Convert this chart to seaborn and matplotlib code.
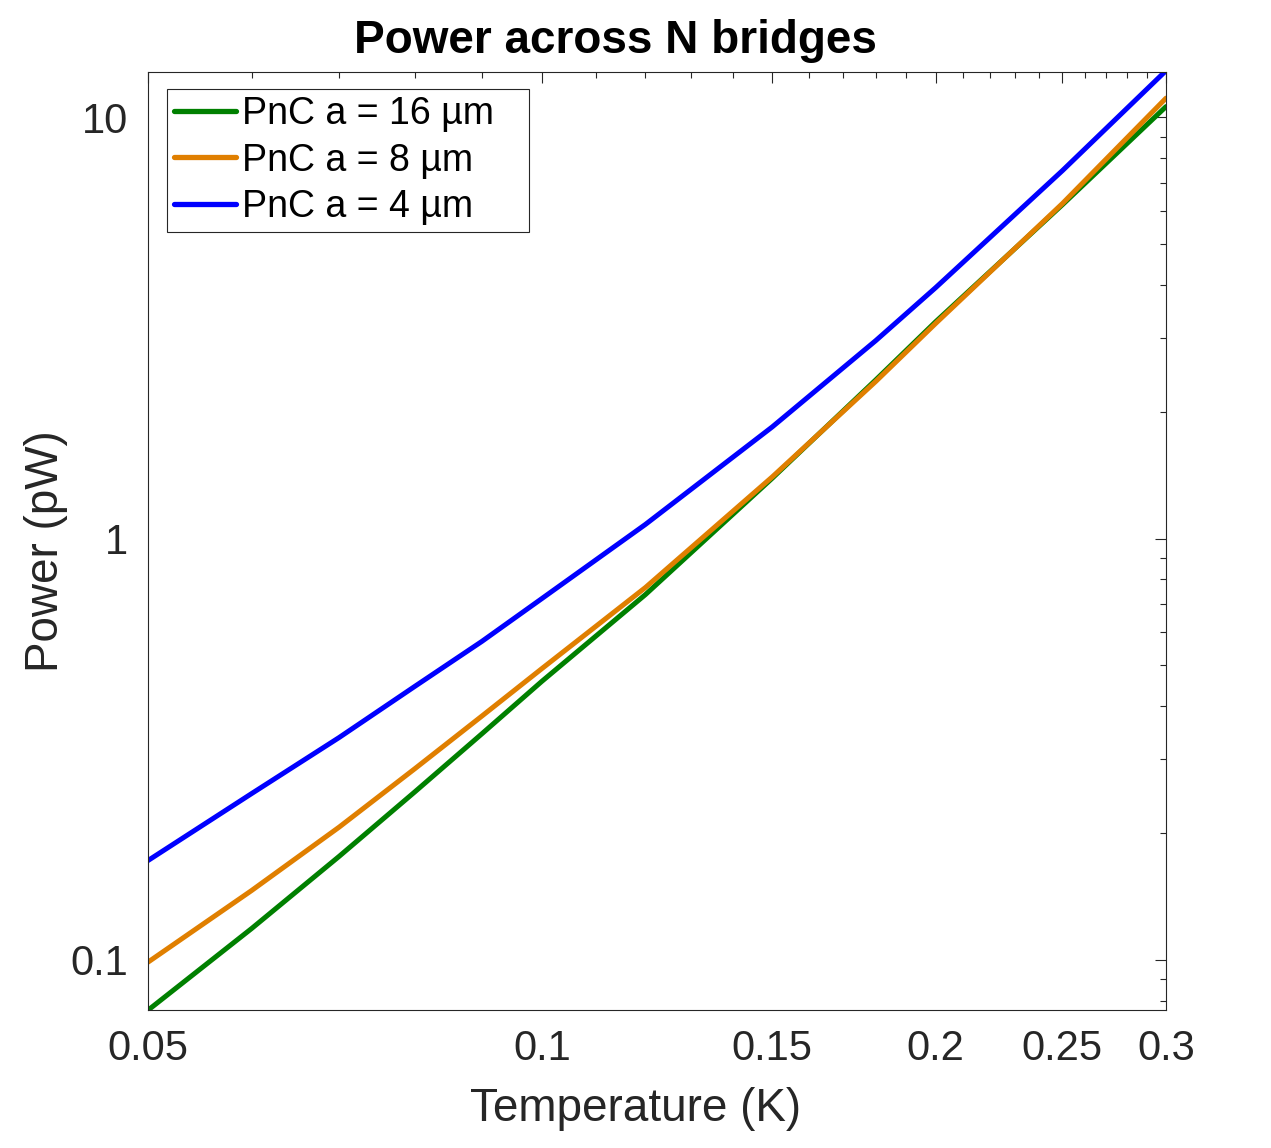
import seaborn as sns
import matplotlib.pyplot as plt
import matplotlib.ticker as mticker
import pandas as pd

# Values (temperature in K, power in pW)
temperature = [0.05, 0.06, 0.07, 0.08, 0.09, 0.10, 0.12, 0.15, 0.18, 0.20, 0.25, 0.30]
power_16um = [0.0759, 0.1186, 0.176, 0.2506, 0.344, 0.458, 0.736, 1.39, 2.38, 3.27, 6.20, 10.6]
power_8um = [0.0987, 0.146, 0.2065, 0.2844, 0.379, 0.491, 0.765, 1.40, 2.36, 3.24, 6.24, 11.1]
power_4um = [0.172, 0.248, 0.337, 0.446, 0.570, 0.720, 1.080, 1.84, 2.95, 3.94, 7.47, 12.9]

labels = ["PnC a = 16 µm", "PnC a = 8 µm", "PnC a = 4 µm"]
colors = {labels[0]: "#008000", labels[1]: "#E07F00", labels[2]: "#0000FF"}

x_ticks = [0.05, 0.1, 0.15, 0.2, 0.25, 0.3]
x_ticklabels = ["0.05", "0.1", "0.15", "0.2", "0.25", "0.3"]
y_ticks = [0.1, 1, 10]
y_ticklabels = ["0.1", "1", "10"]

# long-form table for seaborn
frames = []
for lab, vals in zip(labels, [power_16um, power_8um, power_4um]):
    frames.append(pd.DataFrame({"Temperature": temperature, "Power": vals, "Device": lab}))
df = pd.concat(frames, ignore_index=True)

sns.set_style("white")
plt.rcParams["font.family"] = ["Liberation Sans", "DejaVu Sans"]

fig = plt.figure(figsize=(12.71, 11.48), dpi=100)
ax = fig.add_axes([0.1164, 0.1202, 0.801, 0.817])

sns.lineplot(data=df, x="Temperature", y="Power", hue="Device", hue_order=labels,
             palette=colors, linewidth=3.6, ax=ax, sort=False)

ax.set_xscale("log")
ax.set_yscale("log")
ax.set_xlim(0.05, 0.3)
ax.set_ylim(0.076, 12.8)

ax.xaxis.set_major_locator(mticker.FixedLocator(x_ticks))
ax.xaxis.set_major_formatter(mticker.FixedFormatter(x_ticklabels))
ax.xaxis.set_minor_locator(mticker.MultipleLocator(0.01))
ax.xaxis.set_minor_formatter(mticker.NullFormatter())
ax.yaxis.set_major_locator(mticker.FixedLocator(y_ticks))
ax.yaxis.set_major_formatter(mticker.FixedFormatter(y_ticklabels))
ax.yaxis.set_minor_locator(mticker.LogLocator(base=10, subs=range(2, 10)))
ax.yaxis.set_minor_formatter(mticker.NullFormatter())

dark = "#262626"
ax.tick_params(which="both", direction="in", top=True, right=True, colors=dark,
               labelsize=30, width=0.8)
ax.tick_params(which="major", length=8, pad=14)
ax.tick_params(which="minor", length=4.5)
for s in ax.spines.values():
    s.set_color(dark)
    s.set_linewidth(0.8)

ax.set_xlabel("Temperature (K)", fontsize=33, color=dark)
ax.set_ylabel("Power (pW)", fontsize=33, color=dark)
ax.xaxis.set_label_coords(0.479, -0.082)
ax.yaxis.set_label_coords(-0.079, 0.489)

fig.text(0.484, 0.9538, "Power across N bridges", fontsize=33, fontweight="bold",
         ha="center", va="baseline", color="black")

leg = ax.legend(loc="upper left", bbox_to_anchor=(0.0184, 0.5, 0.356, 0.482),
                mode="expand", borderaxespad=0,
                fontsize=27, frameon=True, fancybox=False, framealpha=1,
                handlelength=1.65, handletextpad=0.16, labelspacing=0.27,
                borderpad=0.2, title=None)
leg.get_frame().set_edgecolor(dark)
leg.get_frame().set_linewidth(0.8)
for line in leg.get_lines():
    line.set_linewidth(3.8)
for t in leg.get_texts():
    t.set_color("black")

fig.savefig("out.png", dpi=100)
